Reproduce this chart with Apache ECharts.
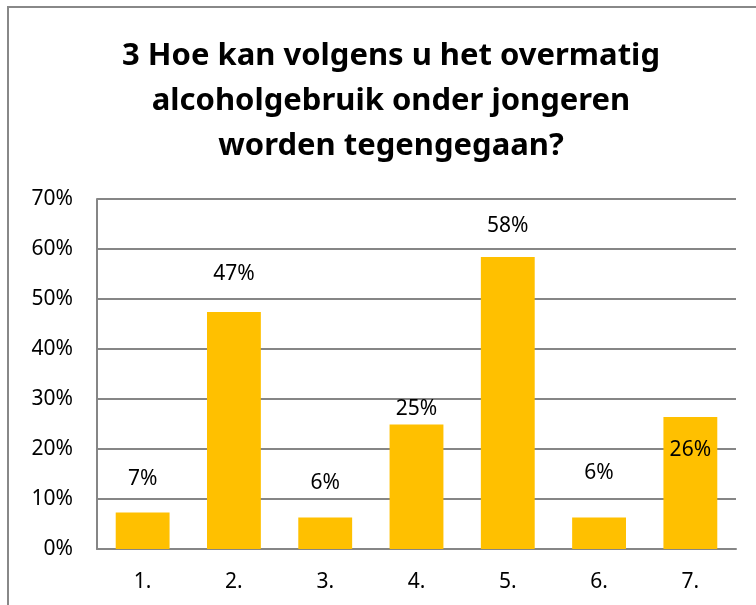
<!DOCTYPE html>
<html lang="nl">
<head>
<meta charset="UTF-8">
<title>Overmatig alcoholgebruik</title>
<style>
  html, body { margin: 0; padding: 0; background: #fff; }
  #chart { width: 756px; height: 605px; }
</style>
</head>
<body>
<div id="chart"></div>
<script src="https://cdn.jsdelivr.net/npm/echarts@6/dist/echarts.min.js"></script>
<script>
// antwoordcategorieën en percentages
var categories = ['1.', '2.', '3.', '4.', '5.', '6.', '7.'];
var percentages = [7.3, 47.4, 6.3, 24.9, 58.4, 6.3, 26.4];
var yTicks = [0, 10, 20, 30, 40, 50, 60, 70];
// verticale verschuiving van de labels (zoals in het origineel)
var labelShift = [-23, -27, -24, -5, -20, -34, 44];

var chart = echarts.init(document.getElementById('chart'));
chart.setOption({
  animation: false,
  title: {
    text: '3 Hoe kan volgens u het overmatig\nalcoholgebruik onder jongeren\nworden tegengegaan?',
    left: 386, top: 29, textAlign: 'center',
    textStyle: { fontFamily: 'Noto Sans', fontWeight: 'bold', fontSize: 31, lineHeight: 45, color: '#000' }
  },
  graphic: [{
    type: 'rect', shape: { x: 8, y: 7, width: 800, height: 700 },
    style: { fill: 'none', stroke: '#888', lineWidth: 2 }, silent: true
  }],
  grid: { left: 97, right: 20, top: 199, bottom: 56 },
  xAxis: {
    type: 'category', data: categories,
    axisLine: { lineStyle: { color: '#868686', width: 2 } },
    axisTick: { show: false },
    axisLabel: { margin: 23, fontFamily: 'Noto Sans', fontSize: 21, color: '#000' }
  },
  yAxis: {
    type: 'value', min: yTicks[0], max: yTicks[yTicks.length - 1], interval: 10,
    axisLine: { show: true, lineStyle: { color: '#868686', width: 2 } },
    axisTick: { show: false },
    splitLine: { lineStyle: { color: '#868686', width: 2 } },
    axisLabel: { margin: 24, formatter: '{value}%', fontFamily: 'Noto Sans', fontSize: 21, color: '#000' }
  },
  series: [{
    type: 'bar',
    barCategoryGap: '41%',
    itemStyle: { color: '#FFC000' },
    data: percentages.map(function (v, i) {
      return { value: v, label: { offset: [0, labelShift[i]] } };
    }),
    label: {
      show: true, position: 'top', distance: 0,
      fontFamily: 'Noto Sans', fontSize: 21, color: '#000',
      formatter: function (p) { return Math.round(p.value) + '%'; }
    }
  }]
});
</script>
</body>
</html>
